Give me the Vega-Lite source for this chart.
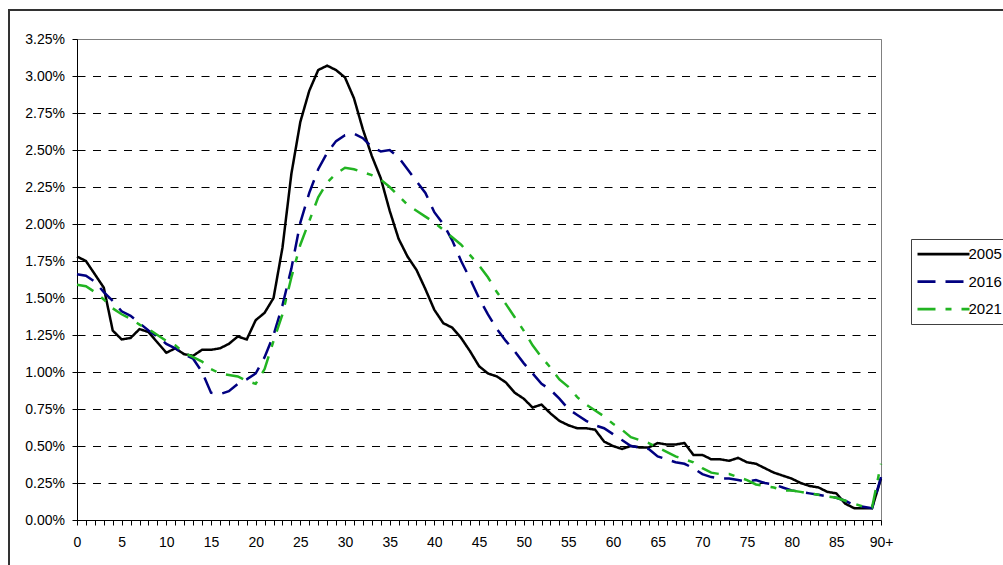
{
  "$schema": "https://vega.github.io/schema/vega-lite/v6.json",
  "autosize": "none",
  "width": 804,
  "height": 481,
  "padding": {"left": 77, "top": 39, "right": 122, "bottom": 45},
  "background": "white",
  "config": {
    "font": "Liberation Sans",
    "view": {"stroke": "#808080", "strokeWidth": 1},
    "axis": {"labelFont": "Liberation Sans", "labelFontSize": 14, "labelColor": "black", "domainColor": "black", "tickColor": "black", "tickSize": 5, "title": null}
  },
  "resolve": {"axis": {"x": "independent", "y": "independent"}},
  "data": {"values": [
{"age":0,"series":"2005","v":1.78},{"age":1,"series":"2005","v":1.75},{"age":2,"series":"2005","v":1.66},{"age":3,"series":"2005","v":1.57},{"age":4,"series":"2005","v":1.28},{"age":5,"series":"2005","v":1.22},{"age":6,"series":"2005","v":1.23},{"age":7,"series":"2005","v":1.29},{"age":8,"series":"2005","v":1.27},{"age":9,"series":"2005","v":1.20},
{"age":10,"series":"2005","v":1.13},{"age":11,"series":"2005","v":1.16},{"age":12,"series":"2005","v":1.12},{"age":13,"series":"2005","v":1.11},{"age":14,"series":"2005","v":1.15},{"age":15,"series":"2005","v":1.15},{"age":16,"series":"2005","v":1.16},{"age":17,"series":"2005","v":1.19},{"age":18,"series":"2005","v":1.24},{"age":19,"series":"2005","v":1.22},
{"age":20,"series":"2005","v":1.35},{"age":21,"series":"2005","v":1.40},{"age":22,"series":"2005","v":1.50},{"age":23,"series":"2005","v":1.84},{"age":24,"series":"2005","v":2.34},{"age":25,"series":"2005","v":2.69},{"age":26,"series":"2005","v":2.90},{"age":27,"series":"2005","v":3.04},{"age":28,"series":"2005","v":3.07},{"age":29,"series":"2005","v":3.04},
{"age":30,"series":"2005","v":2.99},{"age":31,"series":"2005","v":2.85},{"age":32,"series":"2005","v":2.64},{"age":33,"series":"2005","v":2.46},{"age":34,"series":"2005","v":2.31},{"age":35,"series":"2005","v":2.09},{"age":36,"series":"2005","v":1.90},{"age":37,"series":"2005","v":1.78},{"age":38,"series":"2005","v":1.69},{"age":39,"series":"2005","v":1.56},
{"age":40,"series":"2005","v":1.42},{"age":41,"series":"2005","v":1.33},{"age":42,"series":"2005","v":1.30},{"age":43,"series":"2005","v":1.23},{"age":44,"series":"2005","v":1.14},{"age":45,"series":"2005","v":1.04},{"age":46,"series":"2005","v":0.99},{"age":47,"series":"2005","v":0.97},{"age":48,"series":"2005","v":0.93},{"age":49,"series":"2005","v":0.86},
{"age":50,"series":"2005","v":0.82},{"age":51,"series":"2005","v":0.76},{"age":52,"series":"2005","v":0.78},{"age":53,"series":"2005","v":0.72},{"age":54,"series":"2005","v":0.67},{"age":55,"series":"2005","v":0.64},{"age":56,"series":"2005","v":0.62},{"age":57,"series":"2005","v":0.62},{"age":58,"series":"2005","v":0.61},{"age":59,"series":"2005","v":0.53},
{"age":60,"series":"2005","v":0.50},{"age":61,"series":"2005","v":0.48},{"age":62,"series":"2005","v":0.50},{"age":63,"series":"2005","v":0.49},{"age":64,"series":"2005","v":0.49},{"age":65,"series":"2005","v":0.52},{"age":66,"series":"2005","v":0.51},{"age":67,"series":"2005","v":0.51},{"age":68,"series":"2005","v":0.52},{"age":69,"series":"2005","v":0.44},
{"age":70,"series":"2005","v":0.44},{"age":71,"series":"2005","v":0.41},{"age":72,"series":"2005","v":0.41},{"age":73,"series":"2005","v":0.40},{"age":74,"series":"2005","v":0.42},{"age":75,"series":"2005","v":0.39},{"age":76,"series":"2005","v":0.38},{"age":77,"series":"2005","v":0.35},{"age":78,"series":"2005","v":0.32},{"age":79,"series":"2005","v":0.30},
{"age":80,"series":"2005","v":0.28},{"age":81,"series":"2005","v":0.25},{"age":82,"series":"2005","v":0.23},{"age":83,"series":"2005","v":0.22},{"age":84,"series":"2005","v":0.19},{"age":85,"series":"2005","v":0.18},{"age":86,"series":"2005","v":0.11},{"age":87,"series":"2005","v":0.08},{"age":88,"series":"2005","v":0.08},{"age":89,"series":"2005","v":0.08},{"age":90,"series":"2005","v":0.28},
{"age":0,"series":"2016","v":1.66},{"age":1,"series":"2016","v":1.65},{"age":2,"series":"2016","v":1.61},{"age":3,"series":"2016","v":1.54},{"age":4,"series":"2016","v":1.48},{"age":5,"series":"2016","v":1.41},{"age":6,"series":"2016","v":1.38},{"age":7,"series":"2016","v":1.33},{"age":8,"series":"2016","v":1.28},{"age":9,"series":"2016","v":1.24},
{"age":10,"series":"2016","v":1.19},{"age":11,"series":"2016","v":1.16},{"age":12,"series":"2016","v":1.12},{"age":13,"series":"2016","v":1.09},{"age":14,"series":"2016","v":1.00},{"age":15,"series":"2016","v":0.86},{"age":16,"series":"2016","v":0.85},{"age":17,"series":"2016","v":0.87},{"age":18,"series":"2016","v":0.92},{"age":19,"series":"2016","v":0.95},
{"age":20,"series":"2016","v":0.99},{"age":21,"series":"2016","v":1.10},{"age":22,"series":"2016","v":1.25},{"age":23,"series":"2016","v":1.45},{"age":24,"series":"2016","v":1.70},{"age":25,"series":"2016","v":2.01},{"age":26,"series":"2016","v":2.21},{"age":27,"series":"2016","v":2.37},{"age":28,"series":"2016","v":2.48},{"age":29,"series":"2016","v":2.56},
{"age":30,"series":"2016","v":2.60},{"age":31,"series":"2016","v":2.61},{"age":32,"series":"2016","v":2.58},{"age":33,"series":"2016","v":2.52},{"age":34,"series":"2016","v":2.49},{"age":35,"series":"2016","v":2.50},{"age":36,"series":"2016","v":2.45},{"age":37,"series":"2016","v":2.37},{"age":38,"series":"2016","v":2.29},{"age":39,"series":"2016","v":2.21},
{"age":40,"series":"2016","v":2.08},{"age":41,"series":"2016","v":2.00},{"age":42,"series":"2016","v":1.89},{"age":43,"series":"2016","v":1.75},{"age":44,"series":"2016","v":1.63},{"age":45,"series":"2016","v":1.50},{"age":46,"series":"2016","v":1.39},{"age":47,"series":"2016","v":1.29},{"age":48,"series":"2016","v":1.21},{"age":49,"series":"2016","v":1.14},
{"age":50,"series":"2016","v":1.06},{"age":51,"series":"2016","v":0.99},{"age":52,"series":"2016","v":0.92},{"age":53,"series":"2016","v":0.88},{"age":54,"series":"2016","v":0.82},{"age":55,"series":"2016","v":0.75},{"age":56,"series":"2016","v":0.71},{"age":57,"series":"2016","v":0.67},{"age":58,"series":"2016","v":0.64},{"age":59,"series":"2016","v":0.62},
{"age":60,"series":"2016","v":0.58},{"age":61,"series":"2016","v":0.54},{"age":62,"series":"2016","v":0.50},{"age":63,"series":"2016","v":0.49},{"age":64,"series":"2016","v":0.48},{"age":65,"series":"2016","v":0.43},{"age":66,"series":"2016","v":0.41},{"age":67,"series":"2016","v":0.39},{"age":68,"series":"2016","v":0.38},{"age":69,"series":"2016","v":0.35},
{"age":70,"series":"2016","v":0.31},{"age":71,"series":"2016","v":0.29},{"age":72,"series":"2016","v":0.28},{"age":73,"series":"2016","v":0.28},{"age":74,"series":"2016","v":0.27},{"age":75,"series":"2016","v":0.26},{"age":76,"series":"2016","v":0.27},{"age":77,"series":"2016","v":0.25},{"age":78,"series":"2016","v":0.24},{"age":79,"series":"2016","v":0.22},
{"age":80,"series":"2016","v":0.20},{"age":81,"series":"2016","v":0.19},{"age":82,"series":"2016","v":0.18},{"age":83,"series":"2016","v":0.17},{"age":84,"series":"2016","v":0.16},{"age":85,"series":"2016","v":0.15},{"age":86,"series":"2016","v":0.13},{"age":87,"series":"2016","v":0.10},{"age":88,"series":"2016","v":0.09},{"age":89,"series":"2016","v":0.08},{"age":90,"series":"2016","v":0.29},
{"age":0,"series":"2021","v":1.59},{"age":1,"series":"2021","v":1.58},{"age":2,"series":"2021","v":1.54},{"age":3,"series":"2021","v":1.49},{"age":4,"series":"2021","v":1.43},{"age":5,"series":"2021","v":1.39},{"age":6,"series":"2021","v":1.36},{"age":7,"series":"2021","v":1.32},{"age":8,"series":"2021","v":1.29},{"age":9,"series":"2021","v":1.25},
{"age":10,"series":"2021","v":1.21},{"age":11,"series":"2021","v":1.18},{"age":12,"series":"2021","v":1.13},{"age":13,"series":"2021","v":1.10},{"age":14,"series":"2021","v":1.07},{"age":15,"series":"2021","v":1.02},{"age":16,"series":"2021","v":0.99},{"age":17,"series":"2021","v":0.98},{"age":18,"series":"2021","v":0.97},{"age":19,"series":"2021","v":0.94},
{"age":20,"series":"2021","v":0.92},{"age":21,"series":"2021","v":1.02},{"age":22,"series":"2021","v":1.21},{"age":23,"series":"2021","v":1.39},{"age":24,"series":"2021","v":1.64},{"age":25,"series":"2021","v":1.86},{"age":26,"series":"2021","v":2.02},{"age":27,"series":"2021","v":2.18},{"age":28,"series":"2021","v":2.28},{"age":29,"series":"2021","v":2.34},
{"age":30,"series":"2021","v":2.38},{"age":31,"series":"2021","v":2.37},{"age":32,"series":"2021","v":2.35},{"age":33,"series":"2021","v":2.33},{"age":34,"series":"2021","v":2.30},{"age":35,"series":"2021","v":2.25},{"age":36,"series":"2021","v":2.19},{"age":37,"series":"2021","v":2.13},{"age":38,"series":"2021","v":2.09},{"age":39,"series":"2021","v":2.05},
{"age":40,"series":"2021","v":2.01},{"age":41,"series":"2021","v":1.96},{"age":42,"series":"2021","v":1.91},{"age":43,"series":"2021","v":1.86},{"age":44,"series":"2021","v":1.79},{"age":45,"series":"2021","v":1.72},{"age":46,"series":"2021","v":1.64},{"age":47,"series":"2021","v":1.54},{"age":48,"series":"2021","v":1.46},{"age":49,"series":"2021","v":1.37},
{"age":50,"series":"2021","v":1.28},{"age":51,"series":"2021","v":1.18},{"age":52,"series":"2021","v":1.10},{"age":53,"series":"2021","v":1.03},{"age":54,"series":"2021","v":0.95},{"age":55,"series":"2021","v":0.90},{"age":56,"series":"2021","v":0.83},{"age":57,"series":"2021","v":0.78},{"age":58,"series":"2021","v":0.74},{"age":59,"series":"2021","v":0.70},
{"age":60,"series":"2021","v":0.65},{"age":61,"series":"2021","v":0.61},{"age":62,"series":"2021","v":0.56},{"age":63,"series":"2021","v":0.54},{"age":64,"series":"2021","v":0.52},{"age":65,"series":"2021","v":0.49},{"age":66,"series":"2021","v":0.46},{"age":67,"series":"2021","v":0.43},{"age":68,"series":"2021","v":0.41},{"age":69,"series":"2021","v":0.39},
{"age":70,"series":"2021","v":0.35},{"age":71,"series":"2021","v":0.32},{"age":72,"series":"2021","v":0.31},{"age":73,"series":"2021","v":0.31},{"age":74,"series":"2021","v":0.29},{"age":75,"series":"2021","v":0.27},{"age":76,"series":"2021","v":0.24},{"age":77,"series":"2021","v":0.23},{"age":78,"series":"2021","v":0.22},{"age":79,"series":"2021","v":0.20},
{"age":80,"series":"2021","v":0.20},{"age":81,"series":"2021","v":0.19},{"age":82,"series":"2021","v":0.18},{"age":83,"series":"2021","v":0.17},{"age":84,"series":"2021","v":0.16},{"age":85,"series":"2021","v":0.15},{"age":86,"series":"2021","v":0.13},{"age":87,"series":"2021","v":0.11},{"age":88,"series":"2021","v":0.09},{"age":89,"series":"2021","v":0.085},{"age":90,"series":"2021","v":0.38}
  ]},
  "layer": [
    {
      "mark": {"type": "line", "strokeWidth": 2.5, "clip": false},
      "encoding": {
        "x": {"field": "age", "type": "quantitative", "scale": {"domain": [0, 90], "nice": false, "zero": false},
          "axis": {"values": [0,1,2,3,4,5,6,7,8,9,10,11,12,13,14,15,16,17,18,19,20,21,22,23,24,25,26,27,28,29,30,31,32,33,34,35,36,37,38,39,40,41,42,43,44,45,46,47,48,49,50,51,52,53,54,55,56,57,58,59,60,61,62,63,64,65,66,67,68,69,70,71,72,73,74,75,76,77,78,79,80,81,82,83,84,85,86,87,88,89,90],
            "labelExpr": "datum.value % 5 == 0 ? (datum.value == 90 ? '90+' : datum.label) : ''",
            "grid": false, "labelPadding": 10, "labelFlush": false, "labelOverlap": false, "labelBound": false}},
        "y": {"field": "v", "type": "quantitative", "scale": {"domain": [0, 3.25], "nice": false},
          "axis": {"values": [0,0.25,0.5,0.75,1,1.25,1.5,1.75,2,2.25,2.5,2.75,3,3.25],
            "labelExpr": "format(datum.value, '.2f') + '%'",
            "labelPadding": 7.5, "labelFlush": false, "labelOverlap": false,
            "grid": true, "gridColor": {"condition": {"test": "datum.value >= 3.2", "value": "#808080"}, "value": "#000000"},
            "gridDash": {"condition": {"test": "datum.value >= 3.2", "value": []}, "value": [8, 7.5]},
            "gridWidth": 1}},
        "color": {"field": "series", "type": "nominal", "scale": {"domain": ["2005", "2016", "2021"], "range": ["#000000", "#000080", "#22B422"]},
          "legend": {"orient": "none", "legendX": 834, "legendY": 200, "title": null, "symbolType": "M-4,0L4,0", "symbolSize": 169, "symbolStrokeWidth": 2.75, "symbolOffset": 17.5, "labelOffset": 17, "labelFont": "Liberation Sans", "labelFontSize": 15, "labelColor": "black", "padding": 7, "rowPadding": 11.5, "strokeColor": "#404040", "fillColor": "white"}},
        "strokeDash": {"field": "series", "type": "nominal", "scale": {"domain": ["2005", "2016", "2021"], "range": [[1, 0], [18, 10], [18, 10, 6, 10]]},
          "legend": {"orient": "none", "legendX": 834, "legendY": 200, "title": null, "symbolType": "M-4,0L4,0", "symbolSize": 169, "symbolStrokeWidth": 2.75, "symbolOffset": 17.5, "labelOffset": 17, "labelFont": "Liberation Sans", "labelFontSize": 15, "labelColor": "black", "padding": 7, "rowPadding": 11.5, "strokeColor": "#404040", "fillColor": "white"}}
      }
    },
    {
      "mark": {"type": "rect", "fillOpacity": 0, "stroke": "#333333", "strokeWidth": 1.5, "clip": false},
      "encoding": {
        "x": {"datum": -7.6, "type": "quantitative", "axis": null},
        "x2": {"datum": 130},
        "y": {"datum": 3.446, "type": "quantitative", "axis": null},
        "y2": {"datum": -0.8}
      }
    }
  ]
}
